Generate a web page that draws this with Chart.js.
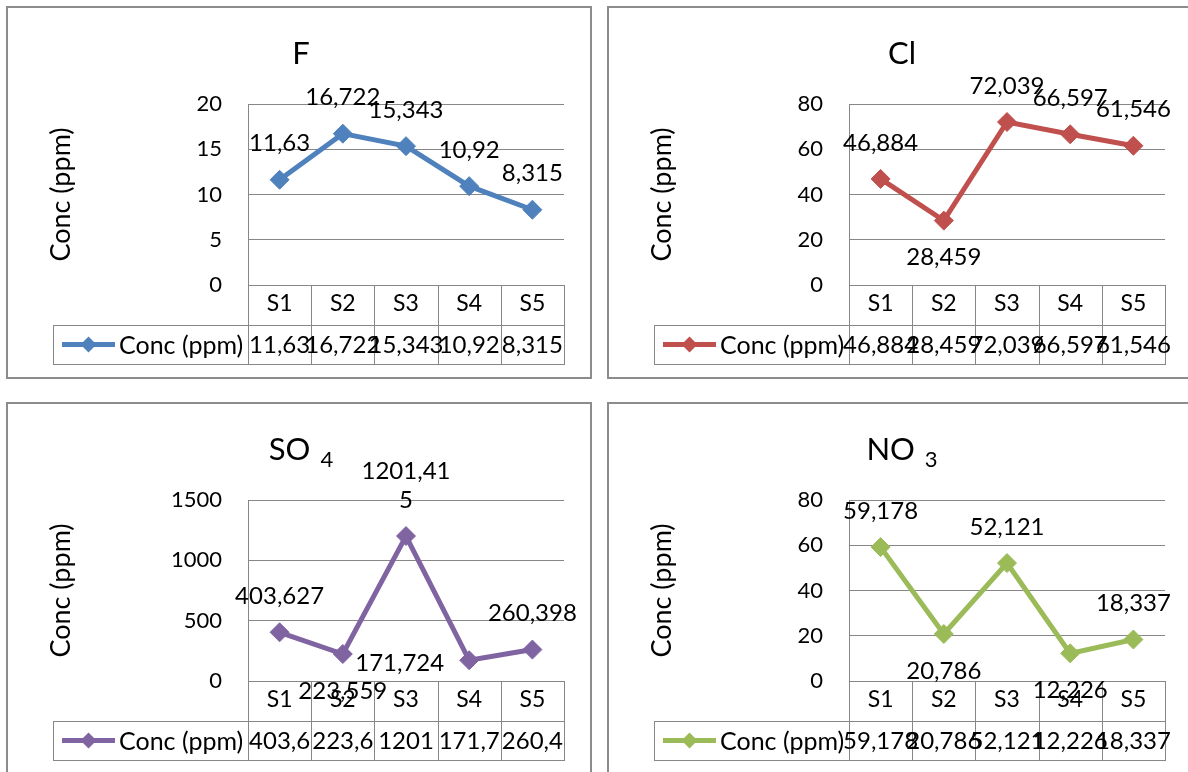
<!DOCTYPE html>
<html>
<head>
<meta charset="utf-8">
<script src="https://cdn.jsdelivr.net/npm/chart.js@4.4.1/dist/chart.umd.min.js"></script>
<style>
  html, body { margin: 0; padding: 0; background: #ffffff; }
  body { width: 1188px; height: 772px; overflow: hidden; position: relative; }
  canvas { position: absolute; }
</style>
</head>
<body>
<canvas id="chartF" width="586" height="373" style="left:6px;top:6px"></canvas>
<canvas id="chartCl" width="586" height="373" style="left:607px;top:6px"></canvas>
<canvas id="chartSO4" width="586" height="373" style="left:6px;top:402px"></canvas>
<canvas id="chartNO3" width="586" height="373" style="left:607px;top:402px"></canvas>
<script>
// Sampling stations and the measured anion concentrations (ppm)
const categories = ['S1', 'S2', 'S3', 'S4', 'S5'];
const seriesName = 'Conc (ppm)';
const fluorideValues = [11.63, 16.722, 15.343, 10.92, 8.315];
const chlorideValues = [46.884, 28.459, 72.039, 66.597, 61.546];
const sulfateValues = [403.627, 223.559, 1201.415, 171.724, 260.398];
const nitrateValues = [59.178, 20.786, 52.121, 12.226, 18.337];

// Value-axis tick labels for each panel
const fluorideTicks = [0, 5, 10, 15, 20];
const chlorideTicks = [0, 20, 40, 60, 80];
const sulfateTicks = [0, 500, 1000, 1500];
const nitrateTicks = [0, 20, 40, 60, 80];

const FONT = 'Lato, "Open Sans", "DejaVu Sans", sans-serif';
const GRID = '#878787';
const INK = '#000000';
const LABEL_SIZE = 24;

// Decimal comma; optional significant-digit rounding for narrow table cells
function fmt(v, digits) {
  const n = digits ? Number(v.toPrecision(digits)) : v;
  return String(n).replace('.', ',');
}

function wrapText(ctx, text, maxW) {
  if (ctx.measureText(text).width <= maxW) return [text];
  const lines = [];
  let cur = '';
  for (const ch of text) {
    if (cur && ctx.measureText(cur + ch).width > maxW) { lines.push(cur); cur = ch; }
    else cur += ch;
  }
  if (cur) lines.push(cur);
  return lines;
}

// Frame, title, data table under the plot and the point value labels
const panelPlugin = {
  id: 'panel',
  afterDraw(chart, args, opts) {
    const ctx = chart.ctx;
    const { left, right, bottom } = chart.chartArea;
    const xs = chart.scales.x;
    const ds = chart.data.datasets[0];
    const n = chart.data.labels.length;
    const cw = (right - left) / n;
    const px = v => Math.round(v) + 0.5;

    ctx.save();

    // outer frame
    ctx.strokeStyle = '#8c8c8c';
    ctx.lineWidth = 2;
    ctx.strokeRect(1, 1, chart.width - 2, chart.height - 2);

    // title with optional subscript
    const parts = opts.title;
    let total = 0;
    parts.forEach(p => {
      ctx.font = p.size + 'px ' + FONT;
      p.w = ctx.measureText(p.text).width;
      total += p.w + (p.gap || 0);
    });
    let tx = chart.width / 2 + 2 - total / 2;
    ctx.fillStyle = INK;
    ctx.textBaseline = 'alphabetic';
    ctx.textAlign = 'left';
    parts.forEach(p => {
      tx += (p.gap || 0);
      ctx.font = p.size + 'px ' + FONT;
      ctx.fillText(p.text, tx, 58 + (p.dy || 0));
      tx += p.w;
    });

    // data table grid
    const y1 = bottom + 40;
    const y2 = y1 + 39;
    const legLeft = 47;
    ctx.strokeStyle = GRID;
    ctx.lineWidth = 1;
    ctx.beginPath();
    ctx.moveTo(legLeft, px(y1)); ctx.lineTo(right + 1, px(y1));
    ctx.moveTo(legLeft, px(y2)); ctx.lineTo(right + 1, px(y2));
    ctx.moveTo(px(legLeft), px(y1)); ctx.lineTo(px(legLeft), px(y2));
    for (let i = 0; i < n; i++) {
      const c = xs.getPixelForValue(i);
      const edge = c + cw / 2;
      ctx.moveTo(px(edge), bottom); ctx.lineTo(px(edge), px(y2));
    }
    ctx.moveTo(px(left), bottom); ctx.lineTo(px(left), px(y2));
    ctx.stroke();

    // category row and value row
    ctx.fillStyle = INK;
    ctx.textAlign = 'center';
    ctx.textBaseline = 'middle';
    for (let i = 0; i < n; i++) {
      const c = xs.getPixelForValue(i);
      ctx.font = '23px ' + FONT;
      ctx.fillText(chart.data.labels[i], c, bottom + 19);
      ctx.font = LABEL_SIZE + 'px ' + FONT;
      ctx.fillText(fmt(ds.data[i], opts.tableDigits), c, (y1 + y2) / 2 + 1);
    }

    // legend key inside the table
    const ly = (y1 + y2) / 2;
    ctx.strokeStyle = ds.borderColor;
    ctx.lineWidth = 5;
    ctx.beginPath();
    ctx.moveTo(56, ly); ctx.lineTo(109, ly);
    ctx.stroke();
    ctx.fillStyle = ds.borderColor;
    ctx.beginPath();
    ctx.moveTo(82.5, ly - 8); ctx.lineTo(90.5, ly); ctx.lineTo(82.5, ly + 8); ctx.lineTo(74.5, ly);
    ctx.closePath();
    ctx.fill();
    ctx.fillStyle = INK;
    ctx.textAlign = 'left';
    ctx.font = '25px ' + FONT;
    ctx.fillText(ds.label, 113, ly + 1);

    // value labels next to each point
    const meta = chart.getDatasetMeta(0);
    ctx.font = LABEL_SIZE + 'px ' + FONT;
    meta.data.forEach((pt, i) => {
      const pos = opts.labelPos[i];
      const lines = wrapText(ctx, fmt(ds.data[i]), 94);
      const lh = 29;
      if (pos === 'left') {
        ctx.textAlign = 'right';
        ctx.fillText(lines.join(''), pt.x - 25, pt.y + 3);
      } else if (pos === 'below') {
        ctx.textAlign = 'center';
        lines.forEach((s, k) => ctx.fillText(s, pt.x, pt.y + 37 + k * lh));
      } else {
        ctx.textAlign = 'center';
        const m = lines.length;
        lines.forEach((s, k) => ctx.fillText(s, pt.x, pt.y - 36 - (m - 1 - k) * lh));
      }
    });

    ctx.restore();
  }
};

function makeChart(id, values, ticks, color, title, labelPos, tableDigits) {
  return new Chart(document.getElementById(id), {
    type: 'line',
    data: {
      labels: categories,
      datasets: [{
        label: seriesName,
        data: values,
        borderColor: color,
        backgroundColor: color,
        borderWidth: 5,
        tension: 0,
        fill: false,
        pointStyle: 'rectRot',
        pointRadius: 9.5,
        pointBackgroundColor: color,
        pointBorderColor: color,
        pointBorderWidth: 1
      }]
    },
    options: {
      responsive: false,
      animation: false,
      events: [],
      layout: { padding: { left: 10, top: 98, right: 28, bottom: 94 } },
      plugins: {
        legend: { display: false },
        title: { display: false },
        tooltip: { enabled: false },
        panel: { title: title, labelPos: labelPos, tableDigits: tableDigits }
      },
      scales: {
        x: { type: 'category', display: false, offset: true },
        y: {
          min: ticks[0],
          max: ticks[ticks.length - 1],
          afterBuildTicks: s => { s.ticks = ticks.map(v => ({ value: v })); },
          afterFit: s => { s.width = 232; },
          grid: { color: GRID, lineWidth: 1, drawTicks: false },
          border: { display: true, color: GRID, width: 1 },
          ticks: { color: INK, font: { family: FONT, size: 22 }, padding: 26, callback: v => String(v) },
          title: {
            display: true, text: seriesName, color: INK,
            font: { family: FONT, size: 27 }, padding: { top: 29, bottom: 0 }
          }
        }
      }
    },
    plugins: [panelPlugin]
  });
}

function drawAll() {
  makeChart('chartF', fluorideValues, fluorideTicks, '#4F81BD',
    [{ text: 'F', size: 31 }],
    ['above', 'above', 'above', 'above', 'above']);
  makeChart('chartCl', chlorideValues, chlorideTicks, '#C0504D',
    [{ text: 'Cl', size: 31 }],
    ['above', 'below', 'above', 'above', 'above']);
  makeChart('chartSO4', sulfateValues, sulfateTicks, '#8064A2',
    [{ text: 'SO', size: 31 }, { text: '4', size: 22, gap: 10, dy: 7 }],
    ['above', 'below', 'above', 'left', 'above'], 4);
  makeChart('chartNO3', nitrateValues, nitrateTicks, '#9BBB59',
    [{ text: 'NO', size: 31 }, { text: '3', size: 22, gap: 10, dy: 7 }],
    ['above', 'below', 'above', 'below', 'above']);
}

Promise.all([
  document.fonts.load('22px Lato'),
  document.fonts.load('31px Lato')
]).then(drawAll, drawAll);
</script>
</body>
</html>
